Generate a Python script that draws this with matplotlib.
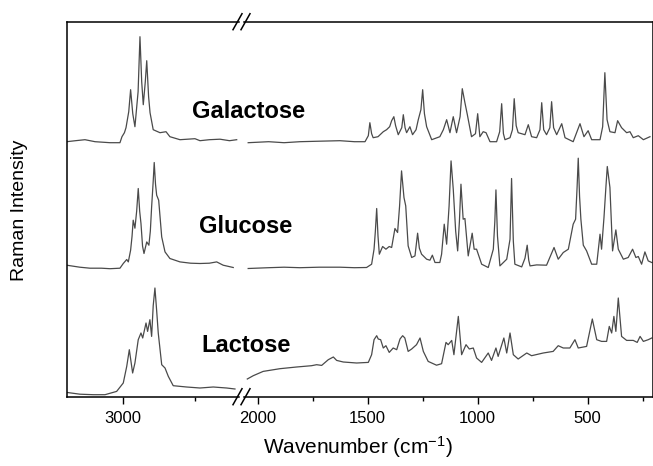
import matplotlib
matplotlib.use('Agg')
import matplotlib.pyplot as plt
from matplotlib.lines import Line2D

plt.rcParams['font.family'] = ['Liberation Sans', 'DejaVu Sans']
plt.rcParams['mathtext.fontset'] = 'custom'
plt.rcParams['mathtext.rm'] = 'Liberation Sans'
plt.rcParams['mathtext.it'] = 'Liberation Sans'

# --- data (wavenumber cm-1, intensity a.u. above each baseline)
galactose_hi_wn = [3391, 3330, 3264, 3194, 3090, 3021, 3007, 2990, 2979, 2960, 2947, 2932, 2917, 2895,
                   2882, 2870, 2859, 2845, 2835, 2822, 2812, 2790, 2743, 2701, 2674, 2604, 2500, 2465,
                   2400, 2326, 2260, 2210]
galactose_hi_int = [0, 1, 2, 0, -1, -1, 5, 9, 14, 30, 52, 28, 15, 50,
                    105, 60, 37, 60, 81, 45, 29, 12, 9, 10, 5, 2, 3, 1,
                    2, 2.5, 1, 2]
galactose_lo_wn = [2043, 1950, 1880, 1808, 1720, 1626, 1560, 1512, 1497, 1490, 1482, 1475, 1453, 1429,
                   1414, 1400, 1391, 1381, 1373, 1361, 1345, 1338, 1330, 1323, 1308, 1296, 1280, 1270,
                   1258, 1250, 1242, 1232, 1209, 1172, 1156, 1141, 1126, 1111, 1096, 1080, 1070, 1058,
                   1047, 1028, 1010, 1000, 990, 975, 962, 944, 914, 900, 891, 883, 876, 853,
                   842, 834, 825, 816, 785, 770, 755, 732, 717, 709, 700, 687, 672, 664,
                   655, 641, 618, 603, 566, 535, 517, 498, 482, 444, 432, 422, 412, 399,
                   376, 364, 346, 323, 308, 293, 270, 247, 217]
galactose_lo_int = [-1, 0, -1, 0, 0.5, 1, 0, 0, 6, 19, 8, 4, 5, 10,
                    12, 15, 21, 25, 16, 7, 14, 27, 14, 9, 15, 7, 12, 22,
                    32, 52, 28, 15, 2, 5, 12, 22, 9, 25, 9, 25, 53, 39,
                    27, 5, 8, 28, 5, 10, 9, 0, 0, 10, 38, 8, 2, 4,
                    12, 43, 16, 9, 7, 17, 5, 4, 12, 39, 12, 7, 14, 40,
                    14, 7, 18, 4, 0, 18, 5, 11, 2, 2, 15, 69, 22, 10,
                    9, 21, 14, 9, 10, 4, 6, 2, 5]

glucose_hi_wn = [3391, 3300, 3229, 3150, 3090, 3021, 2998, 2974, 2963, 2947, 2937, 2929, 2917, 2905,
                 2894, 2884, 2875, 2864, 2854, 2835, 2820, 2810, 2801, 2790, 2783, 2774, 2766, 2752,
                 2740, 2731, 2708, 2674, 2604, 2530, 2465, 2400, 2349, 2304, 2234]
glucose_hi_int = [1, -1, -2, -2, -2.5, -2, 2.7, 6.7, 4.3, 16, 30, 46, 38, 55,
                  77.7, 55, 42.7, 20, 12.7, 24.3, 21, 35, 59.3, 85, 103.7, 82, 71, 66,
                  45, 29.3, 14.3, 7.7, 4.3, 3, 2.7, 3, 4.3, 1, -1.3]
glucose_lo_wn = [2043, 1950, 1880, 1808, 1720, 1626, 1560, 1505, 1482, 1471, 1465, 1459, 1453, 1447,
                 1432, 1417, 1402, 1391, 1376, 1364, 1355, 1346, 1335, 1327, 1316, 1300, 1285, 1273,
                 1265, 1255, 1232, 1217, 1206, 1194, 1172, 1164, 1152, 1141, 1130, 1121, 1111, 1100,
                 1091, 1083, 1076, 1066, 1058, 1043, 1025, 1016, 1005, 982, 952, 929, 922, 917,
                 910, 899, 868, 853, 846, 838, 831, 800, 785, 775, 768, 762, 732, 687,
                 653, 634, 611, 588, 566, 555, 548, 543, 537, 531, 520, 505, 482, 459,
                 444, 437, 426, 417, 411, 399, 387, 372, 361, 338, 316, 296, 281, 270,
                 255, 240, 225, 209]
glucose_lo_int = [-2.3, -1.5, -1, -1.5, -1, -1, -1.5, -1.3, 2, 17, 35, 57.7, 30, 12,
                  19.7, 17, 19.7, 18.7, 37.7, 33.7, 60, 95.3, 68.7, 60.3, 20.3, 8.7, 10.3, 33,
                  18, 12, 7, 6, 11, 3.7, 3.7, 12, 42, 22, 60, 105.3, 77, 35,
                  15.3, 45, 82, 47, 47.7, 10.3, 33, 17, 17, 2, -1.3, 17, 45, 76.3,
                  30, 0.3, 7, 27, 87.7, 25, 2, -0.7, 8, 21, 6, 0.3, 1.3, 1,
                  18.7, 7, 13.7, 17, 42, 47, 80, 108, 70, 47, 21, 15.3, 2, 2,
                  32, 17, 48.7, 80, 99.7, 78.7, 15.3, 36.3, 17, 7, 8.7, 17, 8.7, 9.7,
                  2, 14.3, 5.3, 3.7]

lactose_hi_wn = [3391, 3299, 3206, 3125, 3044, 2998, 2974, 2956, 2933, 2917, 2894, 2875, 2863, 2840,
                 2829, 2813, 2801, 2790, 2778, 2766, 2755, 2731, 2708, 2685, 2651, 2558, 2465, 2373,
                 2280, 2222]
lactose_hi_int = [3.3, 1.5, 1, 1, 4.3, 12.7, 29.3, 46, 22.7, 32.7, 56, 62.7, 57.7, 72.7,
                  64.3, 76, 59.3, 90, 107.7, 85, 62.7, 31, 27.7, 19.3, 10, 8.7, 7.7, 8.7,
                  7.7, 6.7]
lactose_lo_wn = [2047, 2020, 1975, 1899, 1823, 1755, 1732, 1709, 1679, 1656, 1641, 1611, 1550, 1497,
                 1482, 1471, 1459, 1452, 1441, 1429, 1417, 1402, 1384, 1368, 1353, 1341, 1331, 1316,
                 1300, 1278, 1262, 1247, 1225, 1187, 1164, 1144, 1134, 1118, 1108, 1088, 1073, 1053,
                 1038, 1020, 1005, 982, 952, 937, 917, 907, 881, 868, 853, 838, 816, 777,
                 755, 702, 657, 634, 611, 581, 558, 543, 505, 479, 459, 437, 414, 402,
                 391, 381, 372, 361, 346, 323, 293, 275, 262, 247, 225, 209]
lactose_lo_int = [16.7, 20, 24.3, 27, 28.7, 30, 31, 30.3, 36, 38.7, 35.3, 33.7, 32.7, 33.3,
                  41, 56, 60, 56.7, 56, 47.7, 50, 43.3, 47.7, 46, 56.7, 60, 57.7, 44.3,
                  46.7, 51, 57.7, 44.3, 34.3, 30.5, 32, 53.3, 51, 55.3, 41, 79.3, 41, 51,
                  46.7, 47.7, 37.7, 33.3, 42.7, 35.3, 47.7, 39.3, 57.7, 42.7, 62.7, 41, 36.7, 42.7,
                  40, 42.7, 44.3, 50, 47.7, 47.7, 56, 47.7, 49.3, 76.7, 56, 54.3, 54.3, 69.3,
                  62.7, 79.3, 64.3, 97.7, 59.3, 55.3, 55.3, 53.3, 59.3, 54.3, 56, 57.7]

offsets = {'Galactose': 255, 'Glucose': 130.5, 'Lactose': 1}
labels = ['Galactose', 'Glucose', 'Lactose']
label_pos = [(249, 112), (246, 227), (246, 345)]  # pixel centres of the sample names

spectra = {
    'Galactose': (galactose_hi_wn, galactose_hi_int, galactose_lo_wn, galactose_lo_int),
    'Glucose': (glucose_hi_wn, glucose_hi_int, glucose_lo_wn, glucose_lo_int),
    'Lactose': (lactose_hi_wn, lactose_hi_int, lactose_lo_wn, lactose_lo_int),
}

W, H = 653, 466
fig = plt.figure(figsize=(W / 100, H / 100), dpi=100)

left_px, break_l, break_r, right_px = 66.7, 239, 244, 652.5
top_px, bot_px = 21.7, 396.7


def box(x0, x1):
    return [x0 / W, 1 - bot_px / H, (x1 - x0) / W, (bot_px - top_px) / H]


ax1 = fig.add_axes(box(left_px, break_l))
ax2 = fig.add_axes(box(break_r, right_px))

line_kw = dict(color='#4a4a4a', lw=0.9)
for name in labels:
    hw, hi, lw_, li = spectra[name]
    off = offsets[name]
    ax1.plot(hw, [v + off for v in hi], **line_kw)
    ax2.plot(lw_, [v + off for v in li], **line_kw)

ax1.set_xlim(3391, 2194)
ax2.set_xlim(2062, 205.5)
for ax in (ax1, ax2):
    ax.set_ylim(0, 375)
    ax.set_yticks([])
    for s in ax.spines.values():
        s.set_linewidth(1.1)
    ax.tick_params(axis='x', which='major', direction='out', length=5, width=1.0,
                   labelsize=12, pad=5)
    ax.tick_params(axis='x', which='minor', direction='out', length=3, width=1.0)

ax1.spines['right'].set_visible(False)
ax2.spines['left'].set_visible(False)

ax1.set_xticks([3000])
ax1.set_xticks([2500], minor=True)
ax2.set_xticks([2000, 1500, 1000, 500])
ax2.set_xticks([1750, 1250, 750, 250], minor=True)

# break marks "//" on top and bottom spines
for ypx in (top_px, bot_px):
    yf = 1 - ypx / H
    for cx in (237.5, 245.5):
        fig.add_artist(Line2D([(cx - 4.5) / W, (cx + 4.5) / W],
                              [yf - 8 / H, yf + 8 / H], color='black', lw=1.1))

for name, (px, py) in zip(labels, label_pos):
    fig.text(px / W, 1 - py / H, name, ha='center', va='center',
             fontsize=17, fontweight='bold')

fig.text(358 / W, 1 - 447 / H, 'Wavenumber (cm$^{\\mathrm{-1}}$)', ha='center', va='center',
         fontsize=15)
fig.text(20 / W, 1 - 210 / H, 'Raman Intensity', ha='center', va='center',
         rotation=90, fontsize=14)

fig.savefig('out.png', dpi=100)
